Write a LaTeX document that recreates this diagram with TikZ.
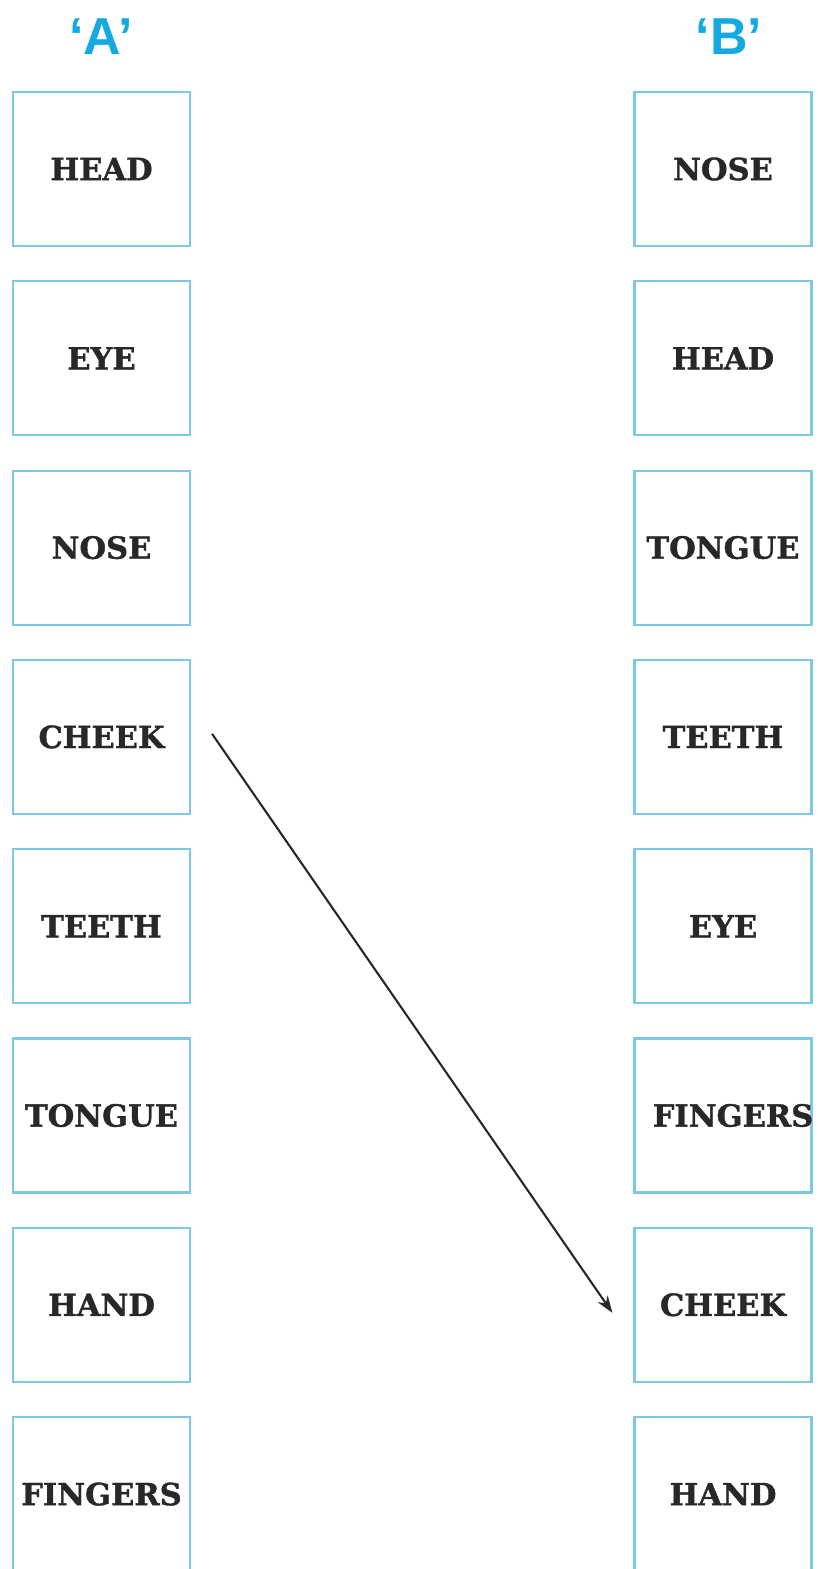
\documentclass[tikz,border=0pt]{standalone}
\usepackage{fontspec}
\newfontfamily\boxfont{DejaVu Serif}[BoldFeatures={FakeBold=1.2}]
\newfontfamily\headfont{Liberation Sans}
\usetikzlibrary{arrows.meta}
\definecolor{boxblue}{RGB}{125,200,230}
\definecolor{headblue}{RGB}{20,170,225}
\definecolor{txt}{RGB}{40,40,40}
\tikzset{
  item/.style={draw=boxblue,line width=2.2pt,minimum width=177pt,minimum height=154pt,inner sep=0pt},
  lbl/.style={font=\boxfont\bfseries\fontsize{30.5}{36}\selectfont,text=txt,inner sep=0pt},
  colhead/.style={font=\headfont\bfseries\fontsize{52}{60}\selectfont,text=headblue,inner sep=0pt},
  link/.style={line width=2.1pt,draw=txt,-{Stealth[length=17pt,width=12pt]}}
}
\begin{document}
\begin{tikzpicture}[x=1pt,y=-1pt]
\useasboundingbox (0,0) rectangle (818,1569);
\node[colhead] (ha) at (101,37) {‘A’};
\node[colhead] (hb) at (729,37) {‘B’};
\foreach \t [count=\i from 0] in {HEAD,EYE,NOSE,CHEEK,TEETH,TONGUE,HAND,FINGERS}{
  \node[item] (l\i) at (101.5,{169+189.3*\i}) {};
  \node[lbl] at (l\i.center) {\t};
}
\foreach \t [count=\i from 0] in {NOSE,HEAD,TONGUE,TEETH,EYE,FINGERS,CHEEK,HAND}{
  \node[item] (r\i) at (723,{169+189.3*\i}) {};
}
\foreach \t [count=\i from 0] in {NOSE,HEAD,TONGUE,TEETH,EYE}{
  \node[lbl] at (r\i.center) {\t};
}
\node[lbl] at ([xshift=10pt]r5.center) {FINGERS};
\node[lbl] at (r6.center) {CHEEK};
\node[lbl] at (r7.center) {HAND};
\coordinate (s) at ([xshift=21pt,yshift=3pt]l3.east);
\coordinate (e) at ([xshift=-21pt,yshift=-8pt]r6.west);
\draw[link] (s) -- (e);
\end{tikzpicture}
\end{document}
